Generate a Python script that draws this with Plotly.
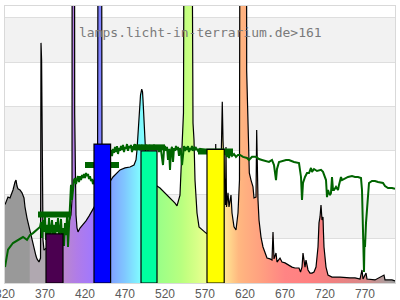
import plotly.graph_objects as go

# ---------------- data ----------------
wavelengths = [320, 323.75, 326.25, 330, 332.5, 333.75, 335, 336.25, 338.75, 341.25, 343.75, 345, 347.5,
               351.25, 353.75, 356.25, 358.75, 360, 362.5, 364.4, 365, 365.75, 366.25, 366.9, 367.5, 368.75,
               371.25, 376.25, 382.5, 388.75, 392.5, 396.25, 400, 402.5, 403.75, 404.0, 406.9, 407.1, 407.6,
               408.1, 408.75, 410, 411.25, 413.75, 417.5, 421.25, 425, 428.75, 431.25, 433.75, 435.6, 435.9,
               436.5, 440.6, 441.25, 443.75, 448.75, 451.25, 452.5, 455, 460, 463.75, 470, 476.25, 481.25,
               483.75, 485, 487.5, 489.4, 490.9, 491.9, 492.5, 494.4, 496.25, 498.75, 501.25, 506.25, 510,
               513.75, 520, 526.25, 532.5, 535, 536.25, 538.75, 541.25, 543.1, 544.0, 553.4, 555, 556.25,
               557.5, 560, 562.5, 567.5, 571.25, 576.25, 582.5, 583.4, 584.1, 588.75, 590.6, 591.6, 592.5,
               593.75, 594.4, 595.6, 596.25, 596.9, 598.75, 600, 602.5, 603.75, 606.25, 608.75, 611.25,
               613.1, 613.75, 621.9, 622.1, 623.75, 624.4, 625.4, 627.5, 630, 631.25, 633.75, 634.6, 635.4,
               636.25, 637.5, 640, 642.5, 645, 647.5, 651.25, 653.75, 655, 656.25, 658.75, 660, 663.75,
               666.25, 670, 673.75, 678.75, 682.5, 687.5, 689.4, 691.25, 692.5, 693.75, 695, 696.25, 697.5,
               698.75, 701.25, 703.75, 706.25, 708.75, 711.25, 712.5, 713.75, 715, 716.25, 717.5, 718.1,
               718.75, 721.25, 723.75, 728.75, 738.75, 751.25, 757.5, 763.75, 766.25, 767.5, 771.25, 772.5,
               782.5, 793.75, 795, 803.75, 807.5]
intensity = [35.5, 38.9, 38.5, 42.1, 45.7, 46.6, 43.9, 42.6, 42.1, 40.8, 38.5, 34.4, 29.4,
             23.5, 18.6, 14.9, 12.2, 10.9, 9.5, 11.3, 108.7, 101, 78.8, 37.6, 19.5, 14.9,
             15.8, 17.2, 19.5, 21.3, 22.6, 24.9, 27.6, 30.8, 37.6, 200, 200, 77, 60,
             46.6, 30.8, 24.9, 23.1, 24.9, 26.3, 28.1, 30.3, 32.6, 34.4, 35.8, 37.6, 95.5,
             200, 200, 62.9, 46.6, 45.3, 46.2, 46.6, 48.0, 49.8, 51.2, 52.1, 52.5, 53.4,
             55.7, 60.2, 77.0, 85.1, 87.8, 86.5, 82.9, 70.6, 55.7, 50.3, 47.5, 45.3, 43.9,
             43.0, 40.8, 38.5, 36.2, 34.9, 36.7, 39.8, 61.6, 77.0, 200, 200, 72.4, 64.7,
             46.6, 31.7, 25.4, 24.0, 22.6, 21.7, 26.3, 62.9, 26.3, 28.5, 60.2, 82.0, 64.7,
             49.8, 42.1, 35.3, 61.6, 34.4, 40.8, 34.4, 39.8, 31.7, 25.4, 24.0, 31.7,
             46.6, 200, 200, 96.0, 70.6, 58.9, 49.8, 46.6, 43.5, 38.5, 38.9, 69.3, 42.1,
             37.6, 28.5, 20.8, 16.3, 13.6, 11.3, 10.9, 10.4, 23.1, 10.9, 13.6, 9.5, 11.3,
             9.5, 9.1, 8.2, 7.2, 6.8, 6.8, 5.0, 7.2, 13.6, 9.5, 7.2, 10.4, 8.2,
             5.9, 4.5, 4.5, 5.0, 7.2, 16.3, 27.2, 29.9, 35.3, 28.5, 29.9, 22.6,
             16.3, 7.2, 3.6, 2.7, 2.7, 2.3, 2.3, 1.8, 5.9, 1.8, 4.5, 1.8,
             1.4, 3.6, 1.4, 1.4, 0.9]

trans_wl = [320, 323.75, 330, 336.25, 342.5, 347.5, 351.25, 355, 360, 363.75, 365, 366.25, 367.5, 368.75,
            370, 371.25, 372.5, 373.75, 375, 376.25, 377.5, 378.75, 380, 381.25, 382.5, 383.75, 385,
            386.25, 387.5, 388.75, 390, 391.25, 392.5, 393.75, 395, 396.25, 397.5, 398.75, 400, 401.25,
            402.5, 403.75, 405, 406.25, 407.5, 408.75, 410, 411.25, 412.5, 413.75, 415, 416.25, 417.5,
            418.75, 420, 421.25, 422.5, 423.75, 425, 426.25, 427.5, 428.75, 430, 433.75, 438.75, 445,
            451.25, 452.5, 453.75, 455, 456.25, 457.5, 458.75, 460, 461.25, 462.5, 463.75, 465, 466.25,
            467.5, 468.75, 470, 471.25, 472.5, 473.75, 475, 476.25, 477.5, 478.75, 480, 481.25, 482.5,
            483.75, 485, 486.25, 487.5, 488.75, 491.25, 493.75, 496.25, 498.75, 501.25, 503.75, 506.25,
            508.75, 511.25, 512.5, 513.75, 515, 516.25, 517.5, 518.75, 520, 521.25, 522.5, 523.75, 525,
            526.25, 527.5, 528.75, 530, 531.25, 532.5, 533.75, 535, 536.25, 537.5, 538.75, 540, 541.25,
            542.5, 543.75, 545, 546.25, 547.5, 548.75, 550, 551.25, 552.5, 553.75, 555, 556.25, 557.5,
            558.75, 561.25, 563.75, 570, 582.5, 593.75, 595, 596.25, 597.5, 598.75, 600, 601.25, 603.75,
            606.25, 608.75, 611.25, 613.75, 617.5, 622.5, 625, 628.75, 633.75, 637.5, 641.25, 646.25,
            650, 653.75, 656.25, 658.75, 660, 662.5, 666.25, 671.25, 675, 677.5, 681.25, 687.5, 690,
            691.25, 692.5, 695, 697.5, 700, 702.5, 703.75, 706.25, 710, 715, 717.5, 721.25, 722.5,
            723.75, 725, 726.25, 727.5, 728.75, 730, 731.25, 733.75, 736.25, 737.5, 740, 741.25, 745,
            748.75, 753.75, 757.5, 761.25, 765, 766.25, 766.9, 767.5, 768.75, 769.4, 770, 771.25, 772.5,
            773.75, 775, 778.75, 782.5, 786.25, 792.5, 795, 798.75, 803.75, 807.5]
trans_val = [7.2, 15.1, 18.1, 19.5, 20.8, 19.5, 21.7, 22.6, 24.0, 25.4, 27.6, 20.4, 28.5, 23.1,
             30.3, 19.5, 26.3, 21.7, 29.4, 18.1, 24.9, 28.5, 21.3, 26.3, 17.2, 27.6, 23.1,
             29.4, 19.5, 25.8, 29.0, 20.4, 24.9, 16.8, 27.2, 21.7, 29.9, 16.3, 26.3, 39.8,
             44.4, 37.6, 43.0, 46.6, 47.5, 44.8, 47.1, 48.4, 45.7, 48.4, 46.6, 48.9, 47.5,
             49.4, 47.5, 49.8, 48.4, 49.4, 47.1, 48.4, 46.2, 47.1, 44.8, 48.4, 53.4, 56.6,
             58.0, 60.2, 57.5, 60.7, 58.9, 61.6, 59.3, 62.0, 58.4, 61.1, 59.8, 62.0, 60.2,
             62.5, 59.3, 61.6, 60.7, 62.9, 59.8, 62.0, 61.1, 62.5, 59.3, 62.0, 60.7, 62.9,
             60.2, 62.0, 61.1, 62.5, 60.2, 62.0, 60.7, 62.5, 60.2, 62.0, 61.1, 62.5,
             60.7, 62.0, 59.3, 61.6, 60.2, 56.6, 53.4, 60.2, 62.0, 59.8, 61.6, 55.7, 60.7,
             51.2, 60.2, 61.6, 54.8, 61.1, 59.8, 62.0, 60.2, 61.6, 57.5, 61.1, 59.3, 53.4,
             60.2, 62.0, 59.8, 61.6, 60.2, 62.0, 59.3, 61.1, 60.2, 62.0, 59.8, 61.6, 60.2,
             61.1, 59.8, 60.7, 60.2, 59.3, 58.9, 58.0, 59.3, 57.1, 58.4, 56.6, 58.9, 57.5,
             58.4, 57.1, 58.0, 58.0, 57.1, 56.6, 55.7, 57.1, 57.1, 56.1, 55.7, 55.2,
             54.8, 55.7, 53.4, 46.6, 51.6, 54.8, 55.2, 55.7, 55.7, 55.2, 54.8, 54.3, 48.0,
             37.6, 45.3, 48.0, 49.8, 49.8, 52.1, 50.3, 51.6, 50.7, 51.2, 50.3, 46.6, 38.9,
             42.1, 40.8, 39.8, 40.8, 48.0, 42.1, 42.1, 43.5, 42.1, 44.4, 48.0, 46.6, 47.5,
             48.0, 48.4, 48.0, 48.0, 47.5, 42.1, 28.5, 13.6, 5.0, 19.5, 16.3, 27.2, 34.4,
             40.8, 45.3, 46.2, 46.2, 45.7, 45.3, 43.9, 43.0, 43.0, 42.6]

band_start = [371.25, 431.25, 490.0, 572.5]
band_end = [392.5, 452.0, 510.0, 594.0]
band_height = [22.2, 62.9, 59.8, 60.5]
band_colors = ["#4b0050", "#0000ff", "#00ffa0", "#ffff00"]

marker_start = [361.25, 420.0, 480.0, 561.25]
marker_end = [402.5, 462.5, 520.0, 605.0]
marker_level = [31.0, 53.4, 61.4, 59.5]

gradient_wl = [320, 350.5, 351, 385, 392, 410, 431, 436, 445, 452, 470, 488, 496, 503, 510, 540, 547,
               560, 572, 590, 597, 612, 620, 640, 670, 700, 730, 770, 800, 807.5]
gradient_colors = ["#999999", "#999999", "#b0a8b0", "#b0a8b0", "#bb88cc", "#b07ce8", "#a078ff",
                   "#8080ff", "#8088ff", "#80a0ff", "#80c8ff", "#80f8ff", "#80ffff", "#80ffc0",
                   "#98ff88", "#b8ff80", "#c4ff80", "#d8ff88", "#eeff90", "#fff090", "#ffe090",
                   "#ffb880", "#ffb080", "#ffa080", "#ff8484", "#ff8080", "#f08080", "#d88888",
                   "#a8a0a0", "#999999"]

x_ticks = [320, 370, 420, 470, 520, 570, 620, 670, 720, 770]
x_range = [320, 807.5]
y_range = [0, 125.4]
band_shade = [[20, 40], [60, 80], [100, 120]]
watermark = "lamps.licht-in-terrarium.de>161"

# ---------------- figure ----------------
g0, g1 = gradient_wl[0], gradient_wl[-1]
colorscale = [[(w - g0) / (g1 - g0), c] for w, c in zip(gradient_wl, gradient_colors)]

fig = go.Figure()

fig.add_trace(go.Scatter(
    x=wavelengths, y=intensity, mode="lines",
    line=dict(color="black", width=1.2),
    fill="tozeroy",
    fillgradient=dict(type="horizontal", colorscale=colorscale, start=g0, stop=g1),
    hoverinfo="skip", showlegend=False))

fig.add_trace(go.Scatter(
    x=trans_wl, y=trans_val, mode="lines",
    line=dict(color="#006400", width=2),
    hoverinfo="skip", showlegend=False))

mx, my = [], []
for s, e, l in zip(marker_start, marker_end, marker_level):
    mx += [s, e, None]
    my += [l, l, None]
fig.add_trace(go.Scatter(x=mx, y=my, mode="lines",
                         line=dict(color="#006400", width=6),
                         hoverinfo="skip", showlegend=False))

for s, e, h, c in zip(band_start, band_end, band_height, band_colors):
    fig.add_trace(go.Scatter(
        x=[s, s, e, e, s], y=[0, h, h, 0, 0], mode="lines",
        fill="toself", fillcolor=c,
        line=dict(color="black", width=1.2),
        hoverinfo="skip", showlegend=False))

for lo, hi in band_shade:
    fig.add_shape(type="rect", xref="paper", x0=0, x1=1, yref="y", y0=lo, y1=hi,
                  fillcolor="#f2f2f2", line=dict(width=0), layer="below")

fig.add_annotation(text=watermark, x=0.501, y=0.906, xref="paper", yref="paper",
                   xanchor="center", yanchor="middle", showarrow=False,
                   font=dict(family="DejaVu Sans Mono", size=13, color="#7a7a7a"))

fig.update_layout(
    width=400, height=300,
    margin=dict(l=5, r=5, t=6, b=17, autoexpand=False),
    paper_bgcolor="white", plot_bgcolor="white",
    showlegend=False,
    xaxis=dict(range=x_range, tickvals=x_ticks, ticks="", showgrid=False, zeroline=False,
               showline=True, mirror=True, linecolor="#d9d9d9", linewidth=1,
               automargin=False, ticklabeloverflow="allow",
               tickfont=dict(family="Liberation Sans", size=12, color="#5a5a5a")),
    yaxis=dict(range=y_range, dtick=20, tick0=0, showticklabels=False, ticks="",
               automargin=False,
               showgrid=True, gridcolor="#dedede", gridwidth=1, zeroline=False,
               showline=True, mirror=True, linecolor="#d9d9d9", linewidth=1),
)

fig.write_html("out.html")
